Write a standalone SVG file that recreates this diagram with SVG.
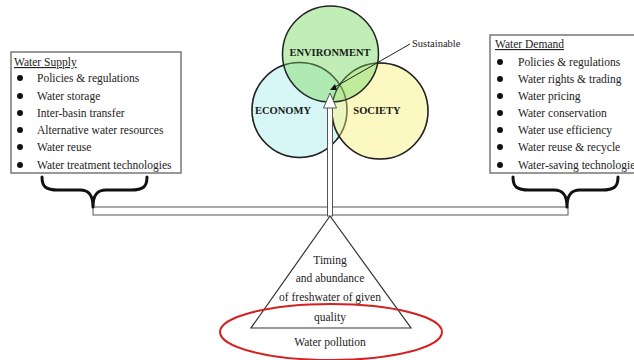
<svg xmlns="http://www.w3.org/2000/svg" width="634" height="360" viewBox="0 0 634 360">
<style>
.t{font-family:"Liberation Serif","Times New Roman",serif;font-size:11.5px;fill:#222}
.h{font-family:"Liberation Serif","Times New Roman",serif;font-size:11.5px;fill:#222;text-decoration:underline}
.c{font-family:"Liberation Serif","Times New Roman",serif;font-size:10.5px;font-weight:bold;fill:#1a1a1a;text-anchor:middle}
.m{text-anchor:middle}
.box{fill:#fff;stroke:#777;stroke-width:1.5}
.circ{stroke:#222;stroke-width:1.5}
.brace{fill:none;stroke:#111;stroke-width:3;stroke-linecap:round;stroke-linejoin:round}
.dbl{fill:#fff;stroke:#555;stroke-width:1}
</style>
<rect width="634" height="360" fill="#fff"/>

<g id="water-supply">
<rect class="box" x="11" y="52" width="170" height="121"/>
<text class="h" x="14" y="66">Water Supply</text>
<g fill="#111">
<circle cx="20" cy="78" r="3"/><circle cx="20" cy="96" r="3"/><circle cx="20" cy="113" r="3"/>
<circle cx="20" cy="130" r="3"/><circle cx="20" cy="147" r="3"/><circle cx="20" cy="165" r="3"/>
</g>
<text class="t" x="37" y="82">Policies &amp; regulations</text>
<text class="t" x="37" y="100">Water storage</text>
<text class="t" x="37" y="117">Inter-basin transfer</text>
<text class="t" x="37" y="134">Alternative water resources</text>
<text class="t" x="37" y="151">Water reuse</text>
<text class="t" x="37" y="169">Water treatment technologies</text>
</g>

<g id="water-demand">
<rect class="box" x="490" y="35" width="150" height="138"/>
<text class="h" x="495" y="48">Water Demand</text>
<g fill="#111">
<circle cx="500" cy="62" r="3"/><circle cx="500" cy="79" r="3"/><circle cx="500" cy="96" r="3"/>
<circle cx="500" cy="113" r="3"/><circle cx="500" cy="130" r="3"/><circle cx="500" cy="147" r="3"/><circle cx="500" cy="165" r="3"/>
</g>
<text class="t" x="518" y="66">Policies &amp; regulations</text>
<text class="t" x="518" y="83">Water rights &amp; trading</text>
<text class="t" x="518" y="100">Water pricing</text>
<text class="t" x="518" y="117">Water conservation</text>
<text class="t" x="518" y="134">Water use efficiency</text>
<text class="t" x="518" y="151">Water reuse &amp; recycle</text>
<text class="t" x="518" y="169">Water-saving technologies</text>
</g>

<g id="venn">
<circle class="circ" cx="299.5" cy="110" r="47.5" fill="#c8f4f2" fill-opacity="0.75"/>
<circle class="circ" cx="380" cy="111" r="48" fill="#f8f49a" fill-opacity="0.6"/>
<circle class="circ" cx="330.5" cy="54" r="48" fill="#8ee07a" fill-opacity="0.55"/>
<circle cx="299.5" cy="110" r="47.5" fill="none" stroke="#222" stroke-width="1.5" stroke-opacity="0.35"/>
<circle cx="380" cy="111" r="48" fill="none" stroke="#222" stroke-width="1.5" stroke-opacity="0.35"/>
<text class="c" x="330" y="56">ENVIRONMENT</text>
<text class="c" x="283" y="114">ECONOMY</text>
<text class="c" x="377" y="114">SOCIETY</text>
</g>

<g id="sustainable">
<text class="t" x="412" y="47" style="font-size:10.5px">Sustainable</text>
</g>

<g id="beam">
<rect class="dbl" x="93" y="207" width="475" height="8"/>
</g>

<g id="brace-left">
<path class="brace" d="M42,177 C42,187 46,190 58,190 L80,190 C89,190 93,195 93,207 C93,195 97,190 106,190 L131,190 C143,190 147,187 147,177"/>
</g>
<g id="brace-right">
<path class="brace" d="M513,177 C513,187 517,190 529,190 L554,190 C563,190 567,195 567,207 C567,195 571,190 580,190 L602,190 C614,190 618,187 618,177"/>
</g>

<g id="fulcrum">
<polygon points="330,216 251,328 411,328" fill="none" stroke="#333" stroke-width="1.2"/>
<text class="t m" x="330" y="264">Timing</text>
<text class="t m" x="330" y="282">and abundance</text>
<text class="t m" x="330" y="301">of freshwater of given</text>
<text class="t m" x="330" y="321">quality</text>
</g>

<g id="water-pollution">
<ellipse cx="331" cy="332" rx="111" ry="28" fill="none" stroke="#d42020" stroke-width="2"/>
<text class="t m" x="330" y="346">Water pollution</text>
</g>

<g id="connectors">
<rect class="dbl" x="327.5" y="107" width="5" height="109"/>
<polygon points="330,93 323.5,108 336.5,108" fill="#fff" stroke="#555" stroke-width="1"/>
<line x1="410" y1="44" x2="335" y2="87" stroke="#222" stroke-width="1"/>
<polygon points="330,90 337,90 335,84" fill="#111"/>
</g>
</svg>
